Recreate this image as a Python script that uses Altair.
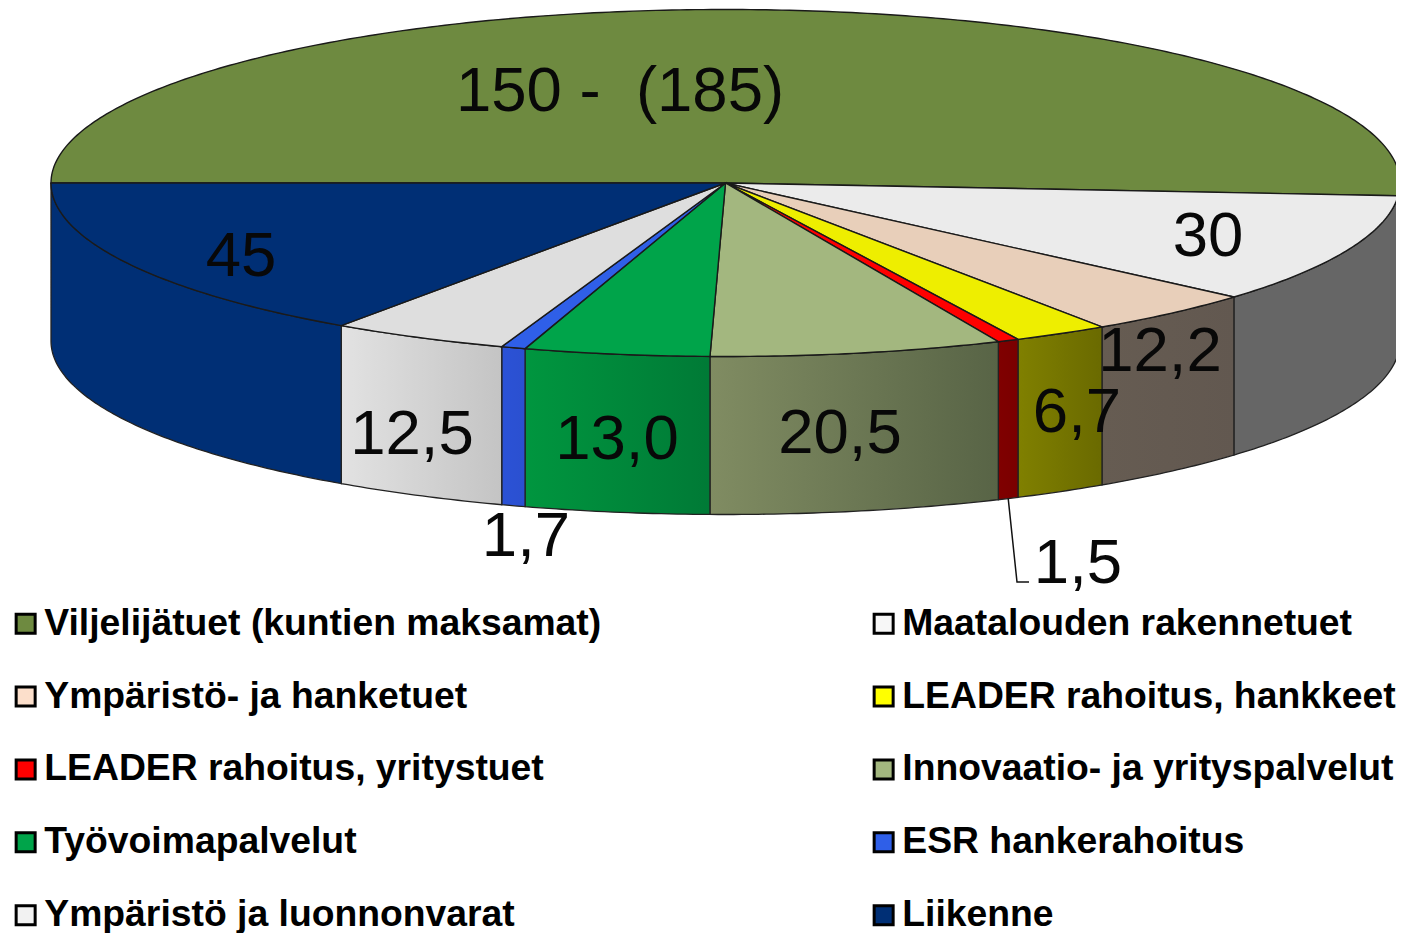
import math
import altair as alt

names = ["Viljelijätuet (kuntien maksamat)", "Maatalouden rakennetuet", "Ympäristö- ja hanketuet",
         "LEADER rahoitus, hankkeet", "LEADER rahoitus, yritystuet", "Innovaatio- ja yrityspalvelut",
         "Työvoimapalvelut", "ESR hankerahoitus", "Ympäristö ja luonnonvarat", "Liikenne"]
values = [150, 30, 12.2, 6.7, 1.5, 20.5, 13.0, 1.7, 12.5, 45]
labels = ["150 - \u00a0(185)", "30", "12,2", "6,7", "1,5", "20,5", "13,0", "1,7", "12,5", "45"]

top_colors = ["#6E8A40", "#EBEBEB", "#E8CFBA", "#EEEE00", "#FF0000", "#A3B77F", "#00A44A", "#2F5FE8", "#DEDEDE", "#002F75"]
legend_colors = ["#6E8A40", "#F7F7F7", "#FCDFCB", "#FFFF00", "#FF0000", "#A3B77F", "#00A44A", "#2F5FE8", "#F2F2F2", "#002F75"]
wall_stops = [("#5F7838", "#5F7838"), ("#666666", "#666666"), ("#665C52", "#625850"), ("#808000", "#6A6A00"),
              ("#800000", "#7A0000"), ("#808C62", "#586446"), ("#00963F", "#007A36"), ("#2B52D6", "#2B50D0"),
              ("#E2E2E2", "#C4C4C4"), ("#002F75", "#002F75")]

label_pos = [(620, 111), (1208, 256), (1160, 371), (1077, 432), (1078, 583),
             (840, 453), (617, 459), (526, 556), (412, 454), (241, 276)]

CX, CY, A, B, DEPTH = 725.5, 183.0, 674.5, 173.5, 158.0
FONT = "Liberation Sans"
total = sum(values)


def pt(deg, drop=0.0):
    t = math.radians(deg)
    return [CX - A * math.cos(t), CY - B * math.sin(t) + drop]


def arc(a0, a1, drop=0.0):
    n = max(2, int(abs(a1 - a0) * 1.5))
    return [pt(a0 + (a1 - a0) * i / n, drop) for i in range(n + 1)]


def feature(coords, name):
    return {"type": "Feature", "properties": {"name": name},
            "geometry": {"type": "Polygon", "coordinates": [coords + [coords[0]]]}}


proj = dict(type="identity", scale=1, translate=[-8, -8])
edges = [0.0]
for v in values:
    edges.append(edges[-1] + v / total * 360)

tops = [feature([[CX, CY]] + arc(edges[i], edges[i + 1]), names[i]) for i in range(len(values))]

legend_layer = alt.Chart(alt.Data(values=tops)).mark_geoshape(strokeWidth=0).encode(
    color=alt.Color("properties.name:N", sort=names,
                    scale=alt.Scale(domain=names, range=legend_colors),
                    legend=alt.Legend(title=None, orient="none", legendX=-1, legendY=597, columns=2,
                                      direction="horizontal", symbolType="square", symbolSize=361,
                                      symbolStrokeColor="black", symbolStrokeWidth=3, symbolOpacity=1,
                                      labelFont=FONT, labelFontWeight="bold", labelFontSize=37.3,
                                      labelColor="black", labelLimit=900, labelOffset=0,
                                      columnPadding=263, rowPadding=34.9, padding=0))
).project(**proj)

layers = [legend_layer]
for i in range(len(values)):
    a0, a1 = max(edges[i], 180.0), edges[i + 1]
    if a1 <= a0:
        continue
    poly = arc(a0, a1) + arc(a1, a0, DEPTH)
    fill = {"gradient": "linear", "x1": 0, "x2": 1, "y1": 0, "y2": 0,
            "stops": [{"offset": 0, "color": wall_stops[i][0]}, {"offset": 1, "color": wall_stops[i][1]}]}
    layers.append(alt.Chart(alt.Data(values=[feature(poly, names[i])])).mark_geoshape(
        fill=fill, stroke="#222222", strokeWidth=1.3).project(**proj))

for i in range(len(values)):
    layers.append(alt.Chart(alt.Data(values=[tops[i]])).mark_geoshape(
        fill=top_colors[i], stroke="#1a1a1a", strokeWidth=1.4).project(**proj))

# leader line of the 1,5 label
red_mid = pt((edges[4] + edges[5]) / 2, DEPTH)
leader = {"type": "Feature", "properties": {},
          "geometry": {"type": "LineString", "coordinates": [red_mid, [1017, 582], [1029, 582]]}}
layers.append(alt.Chart(alt.Data(values=[leader])).mark_geoshape(
    filled=False, stroke="#111111", strokeWidth=1.5).project(**proj))

for i, lab in enumerate(labels):
    x, y = label_pos[i]
    layers.append(alt.Chart(alt.Data(values=[{"t": lab}])).mark_text(
        font=FONT, fontSize=63.5, color="#080808", align="center", baseline="alphabetic").encode(
        x=alt.value(x - 8), y=alt.value(y - 8), text="t:N"))

chart = alt.layer(*layers).properties(
    width=1388, height=925, padding=0,
    autosize=alt.AutoSizeParams(type="none"),
).configure_view(stroke=None)

chart.save("out.html", embed_options={"renderer": "svg", "actions": False})
